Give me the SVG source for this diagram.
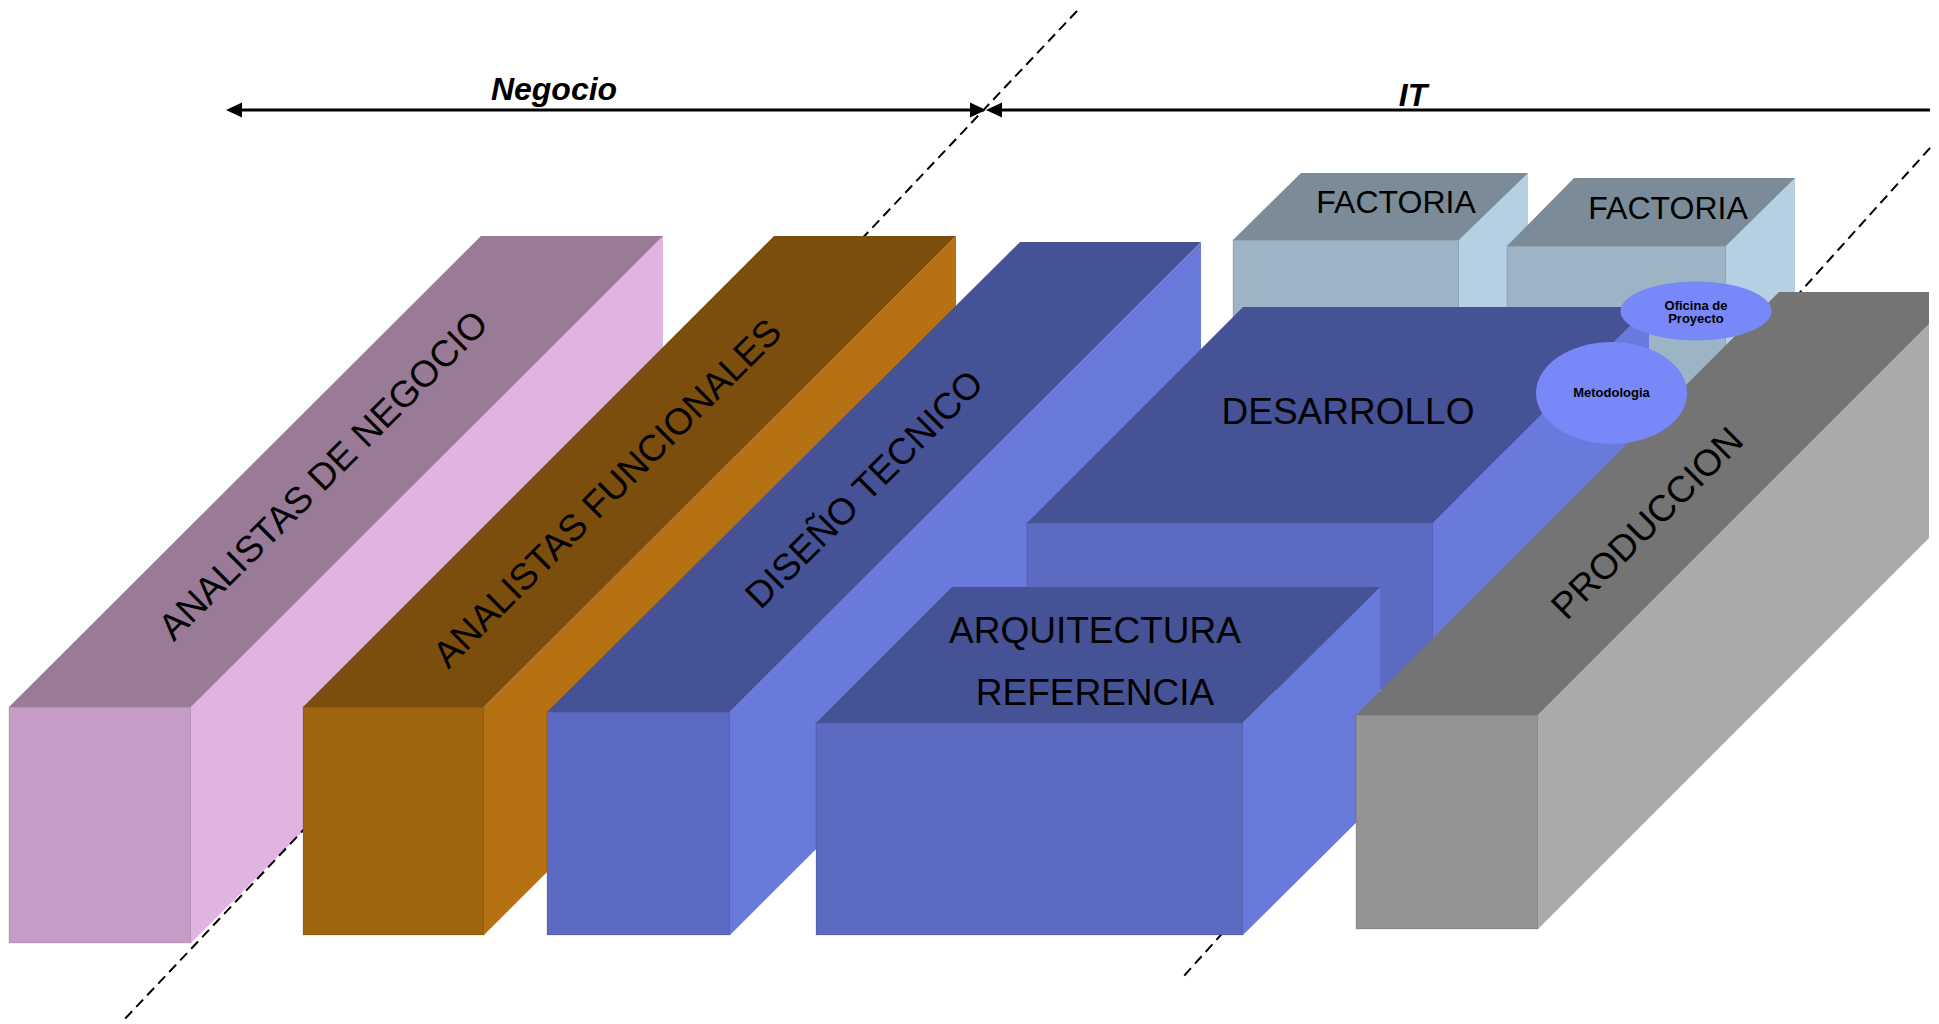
<svg xmlns="http://www.w3.org/2000/svg" width="1939" height="1024" viewBox="0 0 1939 1024">
<defs>
<style>
.t{font-family:"Liberation Sans",Arial,sans-serif;fill:#000}
.lbl{font-size:37px}
.fac{font-size:32px}
.hdr{font-size:32px;font-weight:bold;font-style:italic}
.small{font-size:13px;font-weight:bold}
.fr{stroke:rgba(0,0,0,0.07);stroke-width:2}
.dash{stroke:#000;stroke-width:2;stroke-dasharray:10 6;fill:none}
.arr{stroke:#000;stroke-width:3;fill:none}
.pu-t{fill:#997A97}.pu-f{fill:#C59CC6}.pu-s{fill:#E1B3E1}
.br-t{fill:#7B4E0E}.br-f{fill:#A0650F}.br-s{fill:#B67212}
.bl-t{fill:#465296}.bl-f{fill:#5D6AC1}.bl-s{fill:#6A79DC}
.gr-t{fill:#747474}.gr-f{fill:#949494}.gr-s{fill:#AAAAAA}
.fa-t{fill:#7B8C98}.fa-f{fill:#9DB4C4}.fa-s{fill:#B5D0E2}
.ell{fill:#7888F8}
.head{fill:#000}
</style>
</defs>

<g id="factoria1">
<rect class="fa-f fr" x="1233" y="240" width="226" height="283"/>
<polygon class="fa-s" points="1459,240 1528,173 1528,456 1459,523"/>
<polygon class="fa-t" points="1233,240 1459,240 1528,173 1301,173"/>
<text class="t fac" x="1396" y="213" text-anchor="middle">FACTORIA</text>
</g>

<g id="factoria2">
<rect class="fa-f fr" x="1507" y="246" width="219" height="277"/>
<polygon class="fa-s" points="1726,246 1795,178 1795,456 1726,523"/>
<polygon class="fa-t" points="1507,246 1726,246 1795,178 1574,178"/>
<text class="t fac" x="1668" y="219" text-anchor="middle">FACTORIA</text>
</g>

<g id="analistas-negocio">
<rect class="pu-f fr" x="9" y="707" width="182" height="236"/>
<polygon class="pu-s" points="191,707 663,236 663,472 191,943"/>
<polygon class="pu-t" points="9,707 191,707 663,236 481,236"/>
<text class="t lbl" x="332" y="484" text-anchor="middle" transform="rotate(-45 332 484)">ANALISTAS DE NEGOCIO</text>
</g>

<g id="dividers">
<line class="dash" x1="1077" y1="11" x2="122" y2="1022"/>
<line class="dash" x1="1930" y1="148" x2="1183" y2="977"/>
</g>

<g id="analistas-funcionales">
<rect class="br-f fr" x="303" y="707" width="181" height="228"/>
<polygon class="br-s" points="484,707 956,236 956,464 484,935"/>
<polygon class="br-t" points="303,707 484,707 956,236 774,236"/>
<text class="t lbl" x="616" y="502" text-anchor="middle" transform="rotate(-45 616 502)">ANALISTAS FUNCIONALES</text>
</g>

<g id="diseno-tecnico">
<rect class="bl-f fr" x="547" y="712" width="183" height="223"/>
<polygon class="bl-s" points="730,712 1201,242 1201,465 730,935"/>
<polygon class="bl-t" points="547,712 730,712 1201,242 1020,242"/>
<text class="t lbl" x="873" y="498" text-anchor="middle" transform="rotate(-45 873 498)">DISEÑO TECNICO</text>
</g>

<g id="desarrollo">
<rect class="bl-f fr" x="1027" y="523" width="406" height="167"/>
<polygon class="bl-s" points="1433,523 1649,307 1649,474 1433,690"/>
<polygon class="bl-t" points="1027,523 1433,523 1649,307 1243,307"/>
<text class="t lbl" x="1348" y="424" text-anchor="middle">DESARROLLO</text>
</g>

<g id="arquitectura-referencia">
<rect class="bl-f fr" x="816" y="723" width="427" height="212"/>
<polygon class="bl-s" points="1243,723 1380,587 1380,799 1243,935"/>
<polygon class="bl-t" points="816,723 1243,723 1380,587 952,587"/>
<text class="t lbl" x="1095" y="643" text-anchor="middle">ARQUITECTURA</text>
<text class="t lbl" x="1095" y="705" text-anchor="middle">REFERENCIA</text>
</g>

<g id="produccion">
<rect class="gr-f fr" x="1356" y="715" width="182" height="214"/>
<polygon class="gr-s" points="1538,715 1929,324 1929,538 1538,929"/>
<polygon class="gr-t" points="1356,715 1538,715 1929,324 1929,292 1779,292"/>
<text class="t lbl" x="1656" y="532" text-anchor="middle" transform="rotate(-45 1656 532)">PRODUCCION</text>
</g>

<g id="oficina-proyecto">
<ellipse class="ell" cx="1696" cy="311" rx="75.5" ry="29.5"/>
<text class="t small" x="1696" y="310" text-anchor="middle">Oficina de</text>
<text class="t small" x="1696" y="323" text-anchor="middle">Proyecto</text>
</g>

<g id="metodologia">
<ellipse class="ell" cx="1611.5" cy="393" rx="75.5" ry="51"/>
<text class="t small" x="1611.5" y="397" text-anchor="middle">Metodologia</text>
</g>

<g id="connectors">
<line class="arr" x1="240" y1="110" x2="972" y2="110"/>
<path class="head" d="M226,110 L242,102.5 L242,117.5 Z"/>
<path class="head" d="M986,110 L970,102.5 L970,117.5 Z"/>
<line class="arr" x1="1000" y1="110" x2="1930" y2="110"/>
<path class="head" d="M986,110 L1002,102.5 L1002,117.5 Z"/>
</g>

<g id="headers">
<text class="t hdr" x="554" y="100" text-anchor="middle">Negocio</text>
<text class="t hdr" x="1413" y="106" text-anchor="middle">IT</text>
</g>
</svg>
